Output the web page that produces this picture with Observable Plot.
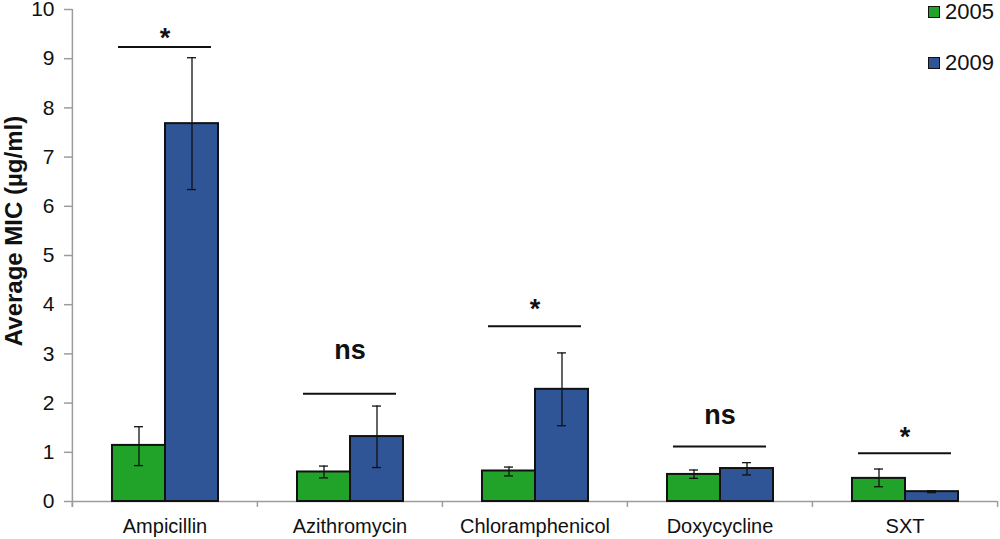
<!DOCTYPE html>
<html>
<head>
<meta charset="utf-8">
<script src="https://cdn.jsdelivr.net/npm/d3@7"></script>
<script src="https://cdn.jsdelivr.net/npm/@observablehq/plot@0.6"></script>
<style>
  body { margin: 0; background: white; font-family: "Liberation Sans", Arial, sans-serif; }
  #wrap { position: relative; width: 1000px; height: 539px; overflow: hidden; }
  .ylab { position: absolute; left: 14px; top: 231px; transform: translate(-50%, -50%) rotate(-90deg);
          font-weight: bold; font-size: 24px; white-space: nowrap; color: #111; }
  .leg { position: absolute; display: flex; align-items: center; font-size: 22px; color: #111; line-height: 22px; }
  .sw { width: 12px; height: 12px; box-sizing: border-box; border: 1.5px solid #111; margin-right: 5px; }
</style>
</head>
<body>
<div id="wrap"></div>
<script>
// ---- data ----
const drugs = ["Ampicillin", "Azithromycin", "Chloramphenicol", "Doxycycline", "SXT"];
const years = ["2005", "2009"];
const mic2005 = [1.14, 0.60, 0.62, 0.55, 0.47];
const lo2005  = [0.73, 0.48, 0.52, 0.47, 0.30];
const hi2005  = [1.52, 0.72, 0.70, 0.64, 0.66];
const mic2009 = [7.68, 1.32, 2.28, 0.67, 0.20];
const lo2009  = [6.34, 0.69, 1.54, 0.54, 0.18];
const hi2009  = [9.02, 1.94, 3.02, 0.79, 0.22];
const sigLabels = ["*", "ns", "*", "ns", "*"];
const sigLineY  = [9.24, 2.19, 3.56, 1.12, 0.98];
const sigLabelY = [9.41, 3.07, 3.91, 1.75, 1.31];
const yTicks = [0, 1, 2, 3, 4, 5, 6, 7, 8, 9, 10];
const colors = ["#21a32a", "#2f5597"];

// ---- tables built from the arrays ----
const rows = [];
drugs.forEach((d, i) => {
  rows.push({drug: d, year: years[0], value: mic2005[i], lo: lo2005[i], hi: hi2005[i]});
  rows.push({drug: d, year: years[1], value: mic2009[i], lo: lo2009[i], hi: hi2009[i]});
});
const sig = drugs.map((d, i) => ({drug: d, label: sigLabels[i], lineY: sigLineY[i], labelY: sigLabelY[i]}));

// ---- layout ----
const W = 1000, H = 539, mL = 71, mR = 3, mT = 9, mB = 38;
const bw = (W - mL - mR) / drugs.length;
const grey = "#9c9c9c";

const chart = Plot.plot({
  width: W, height: H,
  marginLeft: mL, marginRight: mR, marginTop: mT, marginBottom: mB,
  style: {fontFamily: "'Liberation Sans', Arial, sans-serif", background: "white", color: "#111"},
  fx: {domain: drugs, padding: 0, axis: null, label: null},
  x: {domain: years, paddingOuter: 0.74, paddingInner: 0, axis: null},
  y: {domain: [0, 10], axis: null},
  color: {domain: years, range: colors},
  marks: [
    // baseline
    Plot.ruleY([0], {stroke: grey, strokeWidth: 1.5}),
    // y axis line
    Plot.ruleX([drugs[0]], {fx: d => d, x: null, y1: -0.12, y2: 10, dx: -bw / 2, stroke: grey, strokeWidth: 1.5}),
    // category boundary ticks
    Plot.ruleX(drugs, {fx: d => d, x: null, y1: 0, y2: -0.12, dx: -bw / 2, stroke: grey, strokeWidth: 1.5}),
    Plot.ruleX([drugs[drugs.length - 1]], {fx: d => d, x: null, y1: 0, y2: -0.12, dx: bw / 2, stroke: grey, strokeWidth: 1.5}),
    Plot.axisY({ticks: yTicks, tickSize: 8, tickPadding: 10, fontSize: 21, stroke: grey, strokeWidth: 1.5, label: null, tickFormat: d3.format("d")}),
    Plot.axisFx({anchor: "bottom", tickSize: 0, tickPadding: 17, fontSize: 20, label: null}),
    // bars
    Plot.barY(rows, {fx: "drug", x: "year", y: "value", fill: "year", stroke: "#111", strokeWidth: 2}),
    // error bars
    Plot.ruleX(rows, {fx: "drug", x: "year", y1: "lo", y2: "hi", stroke: "#111", strokeWidth: 1.3}),
    Plot.tickY(rows, {fx: "drug", x: "year", y: "lo", insetLeft: 22, insetRight: 22, stroke: "#111", strokeWidth: 1.3}),
    Plot.tickY(rows, {fx: "drug", x: "year", y: "hi", insetLeft: 22, insetRight: 22, stroke: "#111", strokeWidth: 1.3}),
    // significance annotations
    Plot.ruleY(sig, {fx: "drug", y: "lineY", insetLeft: 46, insetRight: 46, stroke: "#111", strokeWidth: 2}),
    Plot.text(sig, {fx: "drug", y: "labelY", text: "label", fontSize: 27, fontWeight: "bold", fill: "#111"})
  ]
});

const wrap = document.getElementById("wrap");
wrap.appendChild(chart);

const yl = document.createElement("div");
yl.className = "ylab";
yl.textContent = "Average MIC (µg/ml)";
wrap.appendChild(yl);

const legTops = [1, 52];
years.forEach((y, i) => {
  const item = document.createElement("div");
  item.className = "leg";
  item.style.left = "928px";
  item.style.top = legTops[i] + "px";
  const sw = document.createElement("div");
  sw.className = "sw";
  sw.style.background = colors[i];
  const t = document.createElement("span");
  t.textContent = y;
  item.appendChild(sw);
  item.appendChild(t);
  wrap.appendChild(item);
});
</script>
</body>
</html>
